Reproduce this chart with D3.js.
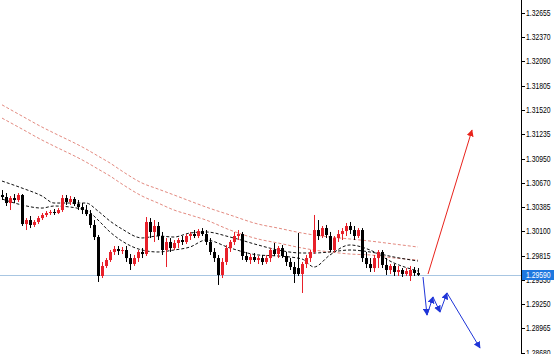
<!DOCTYPE html>
<html>
<head>
<meta charset="utf-8">
<script src="https://cdn.jsdelivr.net/npm/d3@7"></script>
<style>
  body { margin: 0; background: #fff; }
  svg { display: block; }
</style>
</head>
<body>
<div id="chart"></div>
<script>
// candles, one row per bar: [open, high, low, close]
var candles = [
  [1.30525,1.30583,1.30466,1.30501],[1.30501,1.30548,1.30396,1.30431],[1.30431,1.30513,1.30349,1.30489],
  [1.30489,1.30536,1.30431,1.30466],[1.30466,1.30548,1.30443,1.30525],[1.30525,1.30536,1.30162,1.30185],
  [1.30185,1.30255,1.30115,1.30232],[1.30232,1.30279,1.30138,1.30174],[1.30174,1.30232,1.30150,1.30209],
  [1.30209,1.30279,1.30185,1.30255],[1.30255,1.30314,1.30232,1.30291],[1.30291,1.30337,1.30267,1.30314],
  [1.30314,1.30349,1.30291,1.30326],[1.30326,1.30361,1.30291,1.30314],[1.30314,1.30372,1.30302,1.30349],
  [1.30349,1.30525,1.30326,1.30489],[1.30489,1.30525,1.30408,1.30443],[1.30443,1.30513,1.30408,1.30478],
  [1.30478,1.30501,1.30396,1.30419],[1.30419,1.30466,1.30349,1.30384],[1.30384,1.30431,1.30302,1.30349],
  [1.30349,1.30408,1.30279,1.30302],[1.30302,1.30349,1.30138,1.30174],[1.30174,1.30232,1.29998,1.30033],
  [1.30033,1.30057,1.29507,1.29577],[1.29577,1.29741,1.29553,1.29694],[1.29694,1.29787,1.29670,1.29764],
  [1.29764,1.29881,1.29741,1.29858],[1.29858,1.29928,1.29823,1.29893],[1.29893,1.29928,1.29823,1.29869],
  [1.29869,1.29916,1.29834,1.29881],[1.29881,1.29928,1.29741,1.29787],[1.29787,1.29834,1.29647,1.29717],
  [1.29717,1.29823,1.29694,1.29787],[1.29787,1.29881,1.29741,1.29858],[1.29858,1.29904,1.29787,1.29834],
  [1.29834,1.30267,1.29811,1.30209],[1.30209,1.30255,1.30021,1.30092],[1.30092,1.30232,1.29975,1.30162],
  [1.30162,1.30209,1.29998,1.30045],[1.30045,1.30092,1.29823,1.29881],[1.29881,1.30021,1.29682,1.29975],
  [1.29975,1.30021,1.29858,1.29904],[1.29904,1.29998,1.29881,1.29963],[1.29963,1.30021,1.29904,1.29998],
  [1.29998,1.30045,1.29940,1.29975],[1.29975,1.30068,1.29951,1.30045],[1.30045,1.30092,1.29998,1.30068],
  [1.30068,1.30115,1.30021,1.30045],[1.30045,1.30127,1.30021,1.30103],[1.30103,1.30138,1.30045,1.30068],
  [1.30068,1.30115,1.29940,1.29975],[1.29975,1.30021,1.29823,1.29858],[1.29858,1.29904,1.29741,1.29787],
  [1.29787,1.29823,1.29472,1.29589],[1.29589,1.29787,1.29553,1.29741],[1.29741,1.29940,1.29706,1.29904],
  [1.29904,1.29998,1.29858,1.29975],[1.29975,1.30092,1.29940,1.30045],[1.30045,1.30115,1.29998,1.30068],
  [1.30068,1.30092,1.29764,1.29811],[1.29811,1.29858,1.29741,1.29764],[1.29764,1.29834,1.29717,1.29799],
  [1.29799,1.29846,1.29741,1.29764],[1.29764,1.29811,1.29717,1.29787],[1.29787,1.29823,1.29706,1.29741],
  [1.29741,1.29823,1.29717,1.29787],[1.29787,1.29904,1.29741,1.29881],[1.29881,1.29963,1.29811,1.29834],
  [1.29834,1.29928,1.29787,1.29904],[1.29904,1.29940,1.29787,1.29811],[1.29811,1.29858,1.29694,1.29741],
  [1.29741,1.29787,1.29647,1.29682],[1.29682,1.29741,1.29495,1.29600],[1.29670,1.30080,1.29577,1.29600],
  [1.29600,1.29741,1.29378,1.29717],[1.29717,1.29823,1.29670,1.29787],[1.29787,1.29881,1.29741,1.29858],
  [1.29858,1.30291,1.29834,1.30115],[1.30115,1.30232,1.29998,1.30045],[1.30045,1.30162,1.30021,1.30138],
  [1.30138,1.30174,1.30021,1.30057],[1.30045,1.30092,1.29858,1.29881],[1.29881,1.30045,1.29858,1.30021],
  [1.30021,1.30115,1.29975,1.30068],[1.30068,1.30138,1.29998,1.30103],[1.30103,1.30197,1.30045,1.30162],
  [1.30162,1.30209,1.30068,1.30115],[1.30115,1.30162,1.29998,1.30045],[1.30045,1.30138,1.30021,1.30115],
  [1.30115,1.30138,1.29741,1.29787],[1.29787,1.29858,1.29670,1.29717],[1.29717,1.29787,1.29624,1.29670],
  [1.29670,1.29823,1.29624,1.29787],[1.29787,1.29881,1.29670,1.29858],[1.29858,1.29881,1.29670,1.29706],
  [1.29706,1.29787,1.29589,1.29647],[1.29647,1.29717,1.29600,1.29694],[1.29694,1.29717,1.29577,1.29624],
  [1.29624,1.29694,1.29577,1.29647],[1.29647,1.29670,1.29565,1.29600],[1.29600,1.29670,1.29577,1.29635],
  [1.29577,1.29694,1.29518,1.29647],[1.29647,1.29682,1.29577,1.29612],[1.29612,1.29670,1.29577,1.29590]
];

// moving averages, read at these bar indexes
var maIndex = [0, 5, 10, 13, 21, 24, 27, 30, 35, 39, 43, 47, 51, 57, 64, 69, 75, 78, 82, 87, 92, 98, 104];
var redUpper = [1.31580,1.31449,1.31320,1.31250,1.31063,1.30981,1.30899,1.30805,1.30665,1.30595,1.30525,1.30454,
                1.30384,1.30291,1.30185,1.30138,1.30080,1.30057,1.30033,1.30010,1.29986,1.29951,1.29916];
var redLower = [1.31425,1.31297,1.31168,1.31098,1.30911,1.30829,1.30747,1.30653,1.30513,1.30431,1.30349,1.30291,
                1.30232,1.30115,1.30010,1.29963,1.29905,1.29881,1.29858,1.29834,1.29823,1.29788,1.29764];
var blackSlow = [1.30688,1.30606,1.30513,1.30431,1.30431,1.30337,1.30220,1.30127,1.30022,1.30045,1.30033,1.30080,
                 1.30092,1.30033,1.29940,1.29881,1.29846,1.29846,1.29858,1.29881,1.29858,1.29799,1.29752];
var blackFast = [1.30478,1.30408,1.30372,1.30396,1.30349,1.30232,1.30092,1.29986,1.29881,1.29858,1.29881,1.29916,
                 1.29998,1.29905,1.29823,1.29811,1.29776,1.29682,1.29823,1.29940,1.29881,1.29729,1.29635];

// forecast arrows: [bar index, price]
var upArrow = [[106.5, 1.29600], [117.5, 1.31285]];
var downArrow = [[105.25, 1.29565], [106.25, 1.29120], [107.75, 1.29331], [109.5, 1.29155], [111.25, 1.29378], [119.5, 1.28734]];

var priceTicks = [1.32655, 1.32370, 1.32090, 1.31805, 1.31520, 1.31235, 1.30950, 1.30670,
                  1.30385, 1.30100, 1.29815, 1.29530, 1.29250, 1.28965, 1.28680];
var lastPrice = 1.29590;

var W = 554, H = 354, axisX = 521;

var svg = d3.select("#chart").append("svg")
    .attr("width", W)
    .attr("height", H)
    .attr("font-family", "'Liberation Sans', Arial, sans-serif");

var x = d3.scaleLinear().domain([-0.5, 129.75]).range([0, axisX]);
var y = d3.scaleLinear().domain([1.28664, 1.32807]).range([H, 0]);

var defs = svg.append("defs");
[["head-red", "#e8231c"], ["head-blue", "#1f35d8"]].forEach(function (m) {
    defs.append("marker")
        .attr("id", m[0])
        .attr("viewBox", "0 0 10 10")
        .attr("refX", 9).attr("refY", 5)
        .attr("markerWidth", 7).attr("markerHeight", 7)
        .attr("markerUnits", "userSpaceOnUse")
        .attr("orient", "auto")
        .append("path")
        .attr("d", "M0,0L10,5L0,10z")
        .attr("fill", m[1]);
});

// current price line
svg.append("line")
    .attr("x1", 0).attr("x2", axisX)
    .attr("y1", Math.round(y(lastPrice)) + 0.5).attr("y2", Math.round(y(lastPrice)) + 0.5)
    .attr("stroke", "#a8c6e2").attr("stroke-width", 1);

// moving averages
var maLine = function (vals) {
    return d3.line()
        .x(function (d, i) { return x(maIndex[i]); })
        .y(function (d) { return y(d); })
        .curve(d3.curveMonotoneX)(vals);
};
[[redUpper, "#e38a80"], [redLower, "#e38a80"], [blackSlow, "#111"], [blackFast, "#111"]].forEach(function (s) {
    svg.append("path")
        .attr("d", maLine(s[0]))
        .attr("fill", "none")
        .attr("stroke", s[1])
        .attr("stroke-width", 1)
        .attr("stroke-dasharray", "3,2");
});

// candles
var bars = svg.append("g").selectAll("g")
    .data(candles)
    .enter().append("g");

bars.append("line")
    .attr("x1", function (d, i) { return Math.round(x(i)) + 0.5; })
    .attr("x2", function (d, i) { return Math.round(x(i)) + 0.5; })
    .attr("y1", function (d) { return y(d[1]); })
    .attr("y2", function (d) { return y(d[2]); })
    .attr("stroke", function (d) { return d[3] >= d[0] ? "#e8202a" : "#000"; });

bars.append("rect")
    .attr("x", function (d, i) { return Math.round(x(i)) - 1; })
    .attr("width", 3)
    .attr("y", function (d) { return y(Math.max(d[0], d[3])); })
    .attr("height", function (d) { return Math.max(1, Math.abs(y(d[0]) - y(d[3]))); })
    .attr("fill", function (d) { return d[3] >= d[0] ? "#e8202a" : "#000"; });

// forecast arrows
svg.append("line")
    .attr("x1", x(upArrow[0][0])).attr("y1", y(upArrow[0][1]))
    .attr("x2", x(upArrow[1][0])).attr("y2", y(upArrow[1][1]))
    .attr("stroke", "#e8231c").attr("stroke-width", 1)
    .attr("marker-end", "url(#head-red)");

svg.append("g").selectAll("line")
    .data(d3.pairs(downArrow))
    .enter().append("line")
    .attr("x1", function (d) { return x(d[0][0]); })
    .attr("y1", function (d) { return y(d[0][1]); })
    .attr("x2", function (d) { return x(d[1][0]); })
    .attr("y2", function (d) { return y(d[1][1]); })
    .attr("stroke", "#1f35d8").attr("stroke-width", 1)
    .attr("marker-end", "url(#head-blue)");

// price axis on the right
var axis = svg.append("g");
axis.append("line")
    .attr("x1", axisX + 0.5).attr("x2", axisX + 0.5)
    .attr("y1", 0).attr("y2", H)
    .attr("stroke", "#000");

var ticks = axis.selectAll("g.tick")
    .data(priceTicks)
    .enter().append("g")
    .attr("class", "tick")
    .attr("transform", function (d) { return "translate(0," + (Math.round(y(d)) + 0.5) + ")"; });
ticks.append("line")
    .attr("x1", axisX).attr("x2", axisX + 4)
    .attr("stroke", "#000");
// narrow axis font: squeeze horizontally
ticks.append("text")
    .attr("transform", "translate(" + (axisX + 5) + ",0) scale(0.8,1)")
    .attr("dy", "0.33em")
    .attr("font-size", "8.5px")
    .attr("fill", "#000")
    .text(function (d) { return d.toFixed(5); });

// last price badge
var ly = Math.round(y(lastPrice));
axis.append("rect")
    .attr("x", axisX + 1).attr("y", ly - 5)
    .attr("width", W - axisX - 1).attr("height", 10)
    .attr("fill", "#1e78e0");
axis.append("text")
    .attr("transform", "translate(" + (axisX + 5) + "," + ly + ") scale(0.8,1)")
    .attr("dy", "0.35em")
    .attr("font-size", "8.5px")
    .attr("fill", "#fff")
    .text(lastPrice.toFixed(5));
</script>
</body>
</html>
